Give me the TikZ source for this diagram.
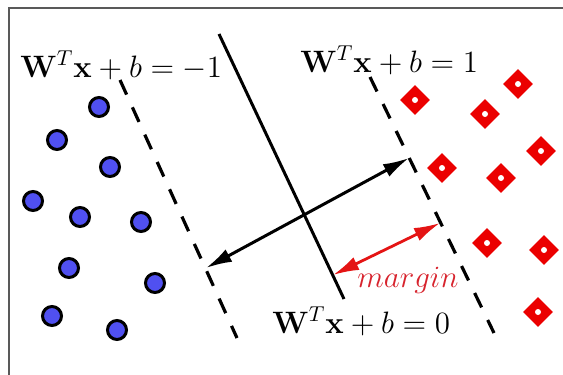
\documentclass[tikz,border=0pt]{standalone}
\usepackage{amsmath,amssymb}
\usepackage{graphicx}
\usepackage{xcolor}
\usepackage{tikz}
\usetikzlibrary{arrows.meta,positioning,shapes.geometric}

\definecolor{ptblue}{RGB}{80,80,240}
\definecolor{ptred}{RGB}{235,0,0}
\definecolor{mgred}{RGB}{215,35,45}
\definecolor{arred}{RGB}{228,20,20}

\begin{document}
\begin{tikzpicture}[x=0.5pt, y=-0.5pt,
  bluept/.style={circle, draw=black, line width=1.5pt, fill=ptblue,
    minimum size=9.5pt, inner sep=0pt},
  redpt/.style={diamond, fill=ptred, minimum size=15pt, inner sep=0pt,
    path picture={\fill[white] (path picture bounding box.center) circle (1.5pt);}},
  hyper/.style={line width=1.5pt},
  bound/.style={line width=1.6pt, dash pattern=on 8pt off 7pt},
  eqn/.style={font=\Large, anchor=base west, inner sep=0pt},
  widtharrow/.style={line width=1.5pt, {Latex[length=13pt,width=7pt]}-{Latex[length=13pt,width=7pt]}},
  marginarrow/.style={arred, line width=1.4pt, {Latex[length=13pt,width=7pt]}-{Latex[length=13pt,width=7pt]}}
]
\useasboundingbox (0,0) rectangle (563,375);

% Frame (cut at the right and bottom)
\draw[gray!70!black, line width=1pt] (9,375) -- (9,8) -- (563,8);

% Class -1 points
\foreach \x/\y [count=\i] in {99/107, 57/140, 110/167, 33/201, 80/217,
    141/222, 69/268, 155/283, 52/316, 117/330} {
  \node[bluept] (neg\i) at (\x,\y) {};
}

% Class +1 points
\foreach \x/\y [count=\i] in {415/100, 518/84, 485/114, 541/151, 442/168,
    501/178, 487/243, 544/250, 538/312} {
  \node[redpt] (pos\i) at (\x,\y) {};
}

% Hyperplanes
\coordinate (hyptop) at (219,34);
\coordinate (hypbot) at (344,299);
\coordinate (negtop) at (120,80);
\coordinate (negbot) at (237,338);
\coordinate (postop) at (370,77);
\coordinate (posbot) at (494,333);
\draw[hyper] (hyptop) -- (hypbot);
\draw[bound] (negtop) -- (negbot);
\draw[bound] (postop) -- (posbot);

% Width and margin arrows
\coordinate (negfoot) at (206,268);
\coordinate (posfoot) at (409,158);
\draw[widtharrow] (negfoot) -- (posfoot);
\coordinate (mleft) at (333,275);
\coordinate (mright) at (440,223);
\draw[marginarrow] (mleft) -- (mright);

% Labels
\node[eqn] (eqneg) at (20,77) {\scalebox{1.075}{$\mathbf{W}^T\mathbf{x}+b=-1$}};
\node[eqn] (eqpos) at (300,72) {\scalebox{1.075}{$\mathbf{W}^T\mathbf{x}+b=1$}};
\node[eqn] (eqzero) at (272,333) {\scalebox{1.075}{$\mathbf{W}^T\mathbf{x}+b=0$}};
\node[eqn, text=mgred] (mlabel) at (357,287) {\scalebox{1.075}{$margin$}};

\end{tikzpicture}
\end{document}
